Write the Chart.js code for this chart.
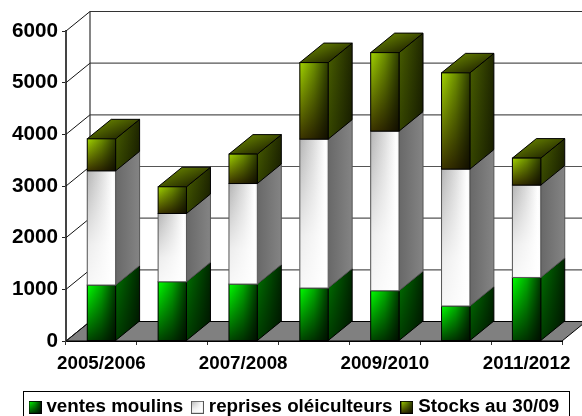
<!DOCTYPE html>
<html>
<head>
<meta charset="utf-8">
<title>Olives</title>
<script src="https://cdn.jsdelivr.net/npm/chart.js@4/dist/chart.umd.min.js"></script>
<style>
  html, body { margin: 0; padding: 0; background: #fff; }
  canvas { display: block; }
</style>
</head>
<body>
<canvas id="chart" width="582" height="416"></canvas>
<script>
  var categories = ['2005/2006', '2006/2007', '2007/2008', '2008/2009', '2009/2010', '2010/2011', '2011/2012'];
  var seriesNames = ['ventes moulins', 'reprises oléiculteurs', 'Stocks au 30/09'];
  var moulins = [1083, 1147, 1102, 1025, 973, 677, 1230];
  var reprises = [2211, 1321, 1946, 2882, 3089, 2650, 1787];
  var stocks = [619, 517, 569, 1482, 1520, 1863, 523];
  var yTicks = [0, 1000, 2000, 3000, 4000, 5000, 6000];

  var FONT = '"Liberation Sans", Arial, sans-serif';
  var DEPTH_X = 24, DEPTH_Y = 19.5;
  var LEGEND_PADDING = 12.3, LEGEND_SIZE = 18.8;

  var faces = [
    { base: '#00b000', line: '#000', frontTop: '#00ff00', frontBottom: '#004800', darken: 0.78,
      sideLeft: '#007800', sideRight: '#002800', sideShade: 0.5, topBack: '#008000', topFront: '#004000' },
    { base: '#ffffff', line: '#555', white: true, darken: 0,
      sideLeft: '#686868', sideRight: '#848484', sideShade: 0, topBack: '#a0a0a0', topFront: '#808080' },
    { base: '#809000', line: '#000', frontTop: '#a2d400', frontBottom: '#3c3400', darken: 0.72,
      sideLeft: '#4a6000', sideRight: '#202800', sideShade: 0.3, topBack: '#688400', topFront: '#2e3600' }
  ];

  function linear(ctx, x0, y0, x1, y1, stops) {
    var g = ctx.createLinearGradient(x0, y0, x1, y1);
    stops.forEach(function (s) { g.addColorStop(s[0], s[1]); });
    return g;
  }

  function quad(ctx, pts) {
    ctx.beginPath();
    ctx.moveTo(pts[0], pts[1]);
    ctx.lineTo(pts[2], pts[3]);
    ctx.lineTo(pts[4], pts[5]);
    ctx.lineTo(pts[6], pts[7]);
    ctx.closePath();
  }

  function paintFront(ctx, x, y, w, h, f) {
    if (f.white) {
      ctx.fillStyle = linear(ctx, x, 0, x + w, 0, [[0, '#b4b4b4'], [0.5, '#dcdcdc'], [0.9, '#ffffff'], [1, '#f4f4f4']]);
      ctx.fillRect(x, y, w, h);
      ctx.fillStyle = linear(ctx, 0, y, 0, y + h, [[0, 'rgba(255,255,255,0)'], [0.65, 'rgba(255,255,255,0.75)'], [1, 'rgba(255,255,255,0.9)']]);
      ctx.fillRect(x, y, w, h);
    } else {
      ctx.fillStyle = linear(ctx, 0, y, 0, y + h, [[0, f.frontTop], [1, f.frontBottom]]);
      ctx.fillRect(x, y, w, h);
      ctx.fillStyle = linear(ctx, x, 0, x + w, 0, [[0, 'rgba(0,0,0,0)'], [0.5, 'rgba(0,0,0,0.32)'], [1, 'rgba(0,0,0,' + f.darken + ')']]);
      ctx.fillRect(x, y, w, h);
    }
    ctx.strokeStyle = f.line;
    ctx.lineWidth = 1;
    ctx.strokeRect(x, y, w, h);
  }

  function paintSide(ctx, x, y, h, f) {
    var pts = [x, y, x + DEPTH_X, y - DEPTH_Y, x + DEPTH_X, y + h - DEPTH_Y, x, y + h];
    quad(ctx, pts);
    ctx.fillStyle = linear(ctx, x, 0, x + DEPTH_X, 0, [[0, f.sideLeft], [1, f.sideRight]]);
    ctx.fill();
    if (f.sideShade) {
      ctx.fillStyle = linear(ctx, 0, y - DEPTH_Y, 0, y + h, [[0, 'rgba(0,0,0,0)'], [1, 'rgba(0,0,0,' + f.sideShade + ')']]);
      ctx.fill();
    }
    ctx.strokeStyle = f.line;
    ctx.lineWidth = 1;
    ctx.stroke();
  }

  function paintTop(ctx, x, y, w, f) {
    quad(ctx, [x, y, x + w, y, x + w + DEPTH_X, y - DEPTH_Y, x + DEPTH_X, y - DEPTH_Y]);
    ctx.fillStyle = linear(ctx, x + DEPTH_X * 0.6, y - DEPTH_Y, x + w * 0.8, y, [[0, f.topBack], [1, f.topFront]]);
    ctx.fill();
    ctx.strokeStyle = f.line;
    ctx.lineWidth = 1;
    ctx.stroke();
  }

  // walls, floor and the sides of the bars, all placed from the chart scales
  var box3d = {
    id: 'box3d',
    beforeInit: function (chart) {
      chart.ctx.textRendering = 'geometricPrecision';
    },
    afterLayout: function (chart) {
      chart.legend.left = 33 - LEGEND_PADDING;
      chart.legend.top = 407.3 - LEGEND_PADDING - LEGEND_SIZE / 2;
    },
    beforeDatasetsDraw: function (chart) {
      var ctx = chart.ctx, area = chart.chartArea, y = chart.scales.y;
      var backLeft = area.left + DEPTH_X, backRight = area.right + DEPTH_X;
      ctx.save();
      quad(ctx, [area.left, area.bottom, area.right, area.bottom, backRight, area.bottom - DEPTH_Y, backLeft, area.bottom - DEPTH_Y]);
      ctx.fillStyle = '#808080';
      ctx.fill();
      ctx.strokeStyle = '#000';
      ctx.lineWidth = 1;
      ctx.stroke();
      yTicks.forEach(function (v) {
        var py = y.getPixelForValue(v);
        ctx.strokeStyle = '#111';
        ctx.lineWidth = 1;
        ctx.beginPath();
        ctx.moveTo(area.left, py);
        ctx.lineTo(backLeft, py - DEPTH_Y);
        ctx.stroke();
        if (v > 0) {
          ctx.strokeStyle = v === 6000 ? '#333' : '#555';
          ctx.lineWidth = 1.2;
          ctx.beginPath();
          ctx.moveTo(backLeft, py - DEPTH_Y);
          ctx.lineTo(backRight, py - DEPTH_Y);
          ctx.stroke();
        }
      });
      ctx.strokeStyle = '#333';
      ctx.lineWidth = 1.2;
      ctx.beginPath();
      ctx.moveTo(backLeft, area.top - DEPTH_Y);
      ctx.lineTo(backLeft, area.bottom - DEPTH_Y);
      ctx.stroke();
      ctx.restore();
    },
    afterDatasetsDraw: function (chart) {
      var ctx = chart.ctx, last = chart.data.datasets.length - 1;
      ctx.save();
      chart.data.datasets.forEach(function (ds, i) {
        chart.getDatasetMeta(i).data.forEach(function (bar) {
          var p = bar.getProps(['x', 'y', 'base', 'width'], true);
          var x = p.x - p.width / 2, h = p.base - p.y;
          paintSide(ctx, x + p.width, p.y, h, faces[i]);
          if (i === last) {
            paintTop(ctx, x, p.y, p.width, faces[i]);
          }
          paintFront(ctx, x, p.y, p.width, h, faces[i]);
        });
      });
      ctx.restore();
    },
    afterDraw: function (chart) {
      var ctx = chart.ctx;
      ctx.save();
      ctx.strokeStyle = '#000';
      ctx.lineWidth = 1;
      ctx.strokeRect(23.5, 391.5, 546, 30);
      ctx.restore();
    }
  };

  function swatch(f) {
    var c = document.createElement('canvas');
    c.width = 13;
    c.height = 13;
    paintFront(c.getContext('2d'), 0.5, 0.5, 12, 12, f);
    return c;
  }

  var swatches = faces.map(swatch);

  var seriesValues = [moulins, reprises, stocks];

  new Chart(document.getElementById('chart'), {
    type: 'bar',
    data: {
      labels: categories,
      datasets: seriesValues.map(function (values, i) {
        return {
          label: seriesNames[i],
          data: values,
          backgroundColor: faces[i].base,
          borderWidth: 0,
          barPercentage: 0.4,
          categoryPercentage: 1
        };
      })
    },
    options: {
      responsive: false,
      animation: false,
      layout: { padding: { left: 0, right: 0, top: 31, bottom: 0 } },
      plugins: {
        tooltip: { enabled: false },
        legend: {
          position: 'bottom',
          align: 'start',
          labels: {
            usePointStyle: true,
            boxWidth: 4,
            padding: LEGEND_PADDING,
            color: '#000',
            font: { family: FONT, size: LEGEND_SIZE, weight: 'bold' },
            generateLabels: function (chart) {
              return chart.data.datasets.map(function (ds, i) {
                return { text: ds.label, pointStyle: swatches[i], datasetIndex: i, hidden: false, lineWidth: 0 };
              });
            }
          }
        }
      },
      scales: {
        x: {
          stacked: true,
          afterFit: function (scale) {
            scale.height = 416 - 341 - scale.chart.legend.height;
          },
          grid: { offset: true, drawOnChartArea: false, tickLength: 4, color: '#333' },
          border: { color: '#000', width: 1 },
          ticks: {
            autoSkip: false,
            maxRotation: 0,
            minRotation: 0,
            padding: 8,
            color: '#000',
            font: { family: FONT, size: 18.8, weight: 'bold' },
            callback: function (value, index) {
              return index % 2 === 0 ? this.getLabelForValue(value) : '';
            }
          }
        },
        y: {
          stacked: true,
          min: 0,
          max: 6000,
          afterFit: function (scale) {
            scale.width = 66;
          },
          grid: { drawOnChartArea: false, tickLength: 4, color: '#222' },
          border: { color: '#444', width: 2 },
          ticks: {
            stepSize: 1000,
            padding: 4,
            color: '#000',
            font: { family: FONT, size: 20.7, weight: 'bold' },
            callback: function (value) {
              return String(value);
            }
          }
        },
        // empty axis that keeps room on the right for the depth of the box
        depthRoom: {
          axis: 'y',
          position: 'right',
          min: 0,
          max: 6000,
          afterFit: function (scale) {
            scale.width = 20;
          },
          grid: { display: false },
          border: { display: false },
          ticks: { display: false }
        }
      }
    },
    plugins: [box3d]
  });
</script>
</body>
</html>
